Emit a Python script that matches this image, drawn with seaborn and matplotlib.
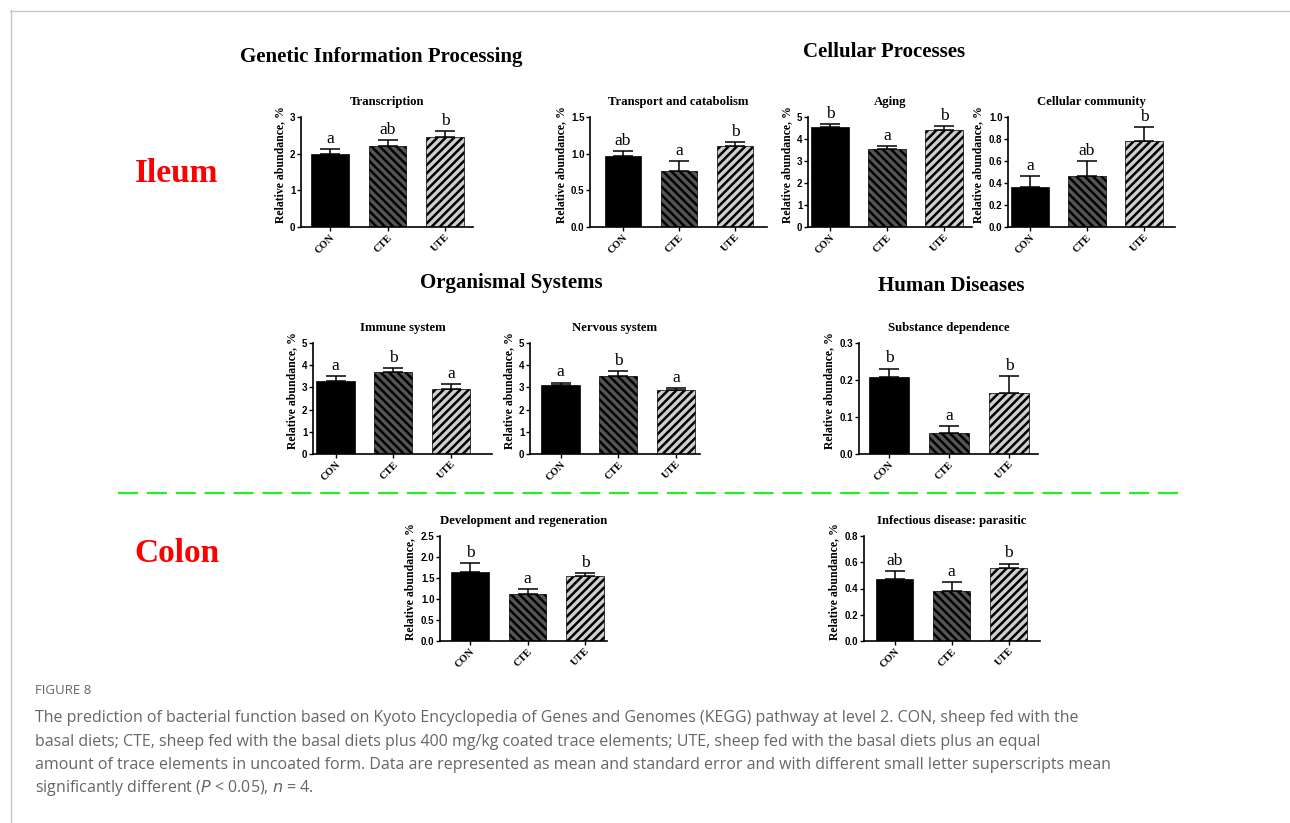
"""KEGG level-2 function prediction, ileum / colon bar panels (Figure 8)."""
import matplotlib
matplotlib.use("Agg")
import matplotlib.pyplot as plt
import seaborn as sns
from matplotlib.lines import Line2D
from matplotlib.ticker import FormatStrFormatter, MultipleLocator

W, H = 1290, 823

GROUPS = ["CON", "CTE", "UTE"]
BAR_COLORS = ["#000000", "#555555", "#cfcfcf"]
HATCHES = ["", "\\\\\\\\", "////"]

# ileum
transcription = [2.00, 2.20, 2.46]
transcription_err = [0.12, 0.16, 0.16]
transcription_sig = ["a", "ab", "b"]

transport = [0.97, 0.77, 1.11]
transport_err = [0.07, 0.13, 0.05]
transport_sig = ["ab", "a", "b"]

aging = [4.53, 3.56, 4.39]
aging_err = [0.15, 0.10, 0.18]
aging_sig = ["b", "a", "b"]

cell_comm = [0.36, 0.46, 0.785]
cell_comm_err = [0.10, 0.14, 0.12]
cell_comm_sig = ["a", "ab", "b"]

immune = [3.30, 3.70, 2.94]
immune_err = [0.20, 0.18, 0.23]
immune_sig = ["a", "b", "a"]

nervous = [3.10, 3.50, 2.87]
nervous_err = [0.12, 0.24, 0.11]
nervous_sig = ["a", "b", "a"]

substance = [0.207, 0.056, 0.166]
substance_err = [0.024, 0.020, 0.045]
substance_sig = ["b", "a", "b"]

# colon
development = [1.65, 1.11, 1.55]
development_err = [0.20, 0.12, 0.06]
development_sig = ["b", "a", "b"]

parasitic = [0.471, 0.380, 0.557]
parasitic_err = [0.063, 0.066, 0.033]
parasitic_sig = ["ab", "a", "b"]

sns.set_theme(style="ticks")
plt.rcParams["font.family"] = ["Liberation Serif", "DejaVu Serif"]
plt.rcParams["hatch.linewidth"] = 1.8
plt.rcParams["axes.linewidth"] = 1.2
for k in ["text.color", "axes.edgecolor", "axes.labelcolor",
          "xtick.color", "ytick.color", "axes.titlecolor"]:
    plt.rcParams[k] = "black"

fig = plt.figure(figsize=(W / 100, H / 100), dpi=100)
fig.patch.set_facecolor("white")


def px_rect(left, top, right, bottom):
    return [left / W, 1 - bottom / H, (right - left) / W, (bottom - top) / H]


def panel(rect, c0, sp, title, vals, errs, sig, ymax, ystep, fmt):
    L, T, R, B = rect
    ax = fig.add_axes(px_rect(L, T, R, B))
    sns.barplot(x=GROUPS, y=vals, hue=GROUPS, palette=BAR_COLORS, legend=False,
                width=0.66, saturation=1, ax=ax)
    for p, h in zip(ax.patches, HATCHES):
        p.set_hatch(h)
        p.set_edgecolor("black")
        p.set_linewidth(0.5)
    ax.errorbar(range(3), vals, yerr=[[0, 0, 0], errs], fmt="none",
                ecolor="black", elinewidth=1.1, capsize=7, capthick=1.1)
    for i, (v, e, s) in enumerate(zip(vals, errs, sig)):
        ax.annotate(s, (i, v + e), xytext=(0, 1.5), textcoords="offset points",
                    ha="center", va="bottom", fontsize=12.5)
    ax.set_xlim((L - c0) / sp, (R - c0) / sp)
    ax.set_ylim(0, ymax)
    ax.yaxis.set_major_locator(MultipleLocator(ystep))
    ax.yaxis.set_major_formatter(FormatStrFormatter(fmt))
    sns.despine(ax=ax)
    ax.tick_params(axis="y", length=3, width=1, pad=1, labelsize=7)
    ax.tick_params(axis="x", length=3, width=1, pad=1, labelsize=7.5)
    for t in ax.get_yticklabels():
        t.set_family(["Liberation Sans", "DejaVu Sans"])
        t.set_fontweight("bold")
    for t in ax.get_xticklabels():
        t.set_rotation(45)
        t.set_ha("right")
        t.set_rotation_mode("anchor")
        t.set_fontweight("bold")
    ax.set_ylabel("Relative abundance, %", fontsize=8.5, fontweight="bold",
                  labelpad=3, y=0.57)
    ax.set_xlabel("")
    ax.set_title(title, fontsize=9.2, fontweight="bold", pad=8.5)
    return ax


# row 1 (ileum)
panel((301, 117, 473, 227), 330, 57.5, "Transcription",
      transcription, transcription_err, transcription_sig, 3, 1, "%d")
panel((590, 117, 767, 227), 623, 56, "Transport and catabolism",
      transport, transport_err, transport_sig, 1.5, 0.5, "%.1f")
panel((808, 117, 972, 227), 830, 57, "Aging",
      aging, aging_err, aging_sig, 5, 1, "%d")
panel((1008, 117, 1175, 227), 1030, 57, "Cellular community",
      cell_comm, cell_comm_err, cell_comm_sig, 1.0, 0.2, "%.1f")

# row 2 (ileum)
panel((313, 343, 492, 454), 335.5, 57.7, "Immune system",
      immune, immune_err, immune_sig, 5, 1, "%d")
panel((530, 343, 700, 454), 560.5, 57.7, "Nervous system",
      nervous, nervous_err, nervous_sig, 5, 1, "%d")
panel((859, 343, 1038, 454), 889, 60, "Substance dependence",
      substance, substance_err, substance_sig, 0.3, 0.1, "%.1f")

# row 3 (colon)
panel((440, 536, 607, 641), 470, 57.5, "Development and regeneration",
      development, development_err, development_sig, 2.5, 0.5, "%.1f")
panel((864, 536, 1040, 641), 894.5, 57, "Infectious disease: parasitic",
      parasitic, parasitic_err, parasitic_sig, 0.8, 0.2, "%.1f")


def ftext(x, y, s, **kw):
    fig.text(x / W, 1 - y / H, s, **kw)


head = dict(fontsize=15, fontweight="bold", ha="center", va="center")
ftext(381, 57, "Genetic Information Processing", **head)
ftext(884, 52, "Cellular Processes", **head)
ftext(511, 283, "Organismal Systems", **head)
ftext(951, 286, "Human Diseases", **head)

tissue = dict(fontsize=24, fontweight="bold", color="#ff0000", ha="center", va="center")
ftext(177, 173, "Ileum", **tissue)
ftext(177, 553, "Colon", **tissue)

# green separator between ileum and colon
fig.add_artist(Line2D([118 / W, 1183 / W], [1 - 493 / H, 1 - 493 / H],
                      color="#22ee22", lw=1.6, dashes=(9, 4)))

# page frame
fig.add_artist(Line2D([10.5 / W, 10.5 / W], [0, 1 - 10 / H], color="#c8c8c8", lw=1))
fig.add_artist(Line2D([10 / W, 1], [1 - 10.5 / H, 1 - 10.5 / H], color="#c8c8c8", lw=1))

# caption
cap = dict(family=["Open Sans", "DejaVu Sans"], color="#666666", ha="left", va="center")
ftext(35, 691, "FIGURE 8", fontsize=9.5, **cap)
caption_lines = [
    "The prediction of bacterial function based on Kyoto Encyclopedia of Genes and Genomes (KEGG) pathway at level 2. CON, sheep fed with the",
    "basal diets; CTE, sheep fed with the basal diets plus 400 mg/kg coated trace elements; UTE, sheep fed with the basal diets plus an equal",
    "amount of trace elements in uncoated form. Data are represented as mean and standard error and with different small letter superscripts mean",
    r"significantly different ($\it{P}$ < 0.05), $\it{n}$ = 4.",
]
for i, line in enumerate(caption_lines):
    ftext(35, 718 + i * 23.5, line, fontsize=11.5, **cap)

fig.savefig("out.png", dpi=100)
